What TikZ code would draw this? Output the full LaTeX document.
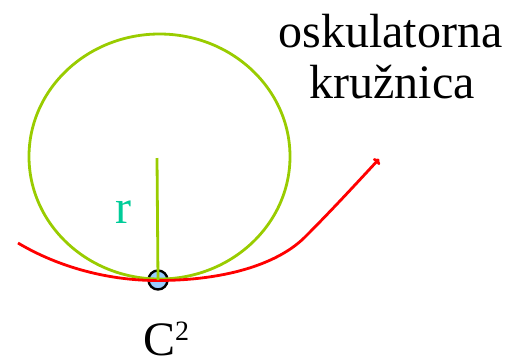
\documentclass[tikz,border=0pt]{standalone}
\usepackage{fontspec}
\setmainfont{Liberation Serif}
\usetikzlibrary{arrows.meta}
\definecolor{cgreen}{HTML}{99CC00}
\definecolor{cteal}{HTML}{00CC99}
\definecolor{cred}{HTML}{FF0000}
\definecolor{cpoint}{HTML}{99CCFF}
\tikzset{
  lbl/.style={font=\fontsize{48bp}{52bp}\selectfont, inner sep=0pt, anchor=base},
  greenline/.style={draw=cgreen, line width=2.8bp},
  redcurve/.style={draw=cred, line width=2.8bp, -{To[length=5bp,width=9bp]}},
  ptstyle/.style={circle, draw=black, line width=2.4bp, fill=cpoint, minimum size=19bp, inner sep=0pt}
}
\begin{document}
\begin{tikzpicture}[x=1bp,y=-1bp]
\useasboundingbox (0,0) rectangle (508,361);
\node[ptstyle] (P) at (158,280) {};
\draw[greenline] (159.5,156.5) ellipse [x radius=130.5, y radius=122.5];
\coordinate (top) at (157,158);
\coordinate (s) at (18,243);
\coordinate (m) at (157,280.5);
\coordinate (k) at (305,237);
\coordinate (e) at (379,159);
\draw[redcurve] (s) .. controls (60,268) and (110,280.5) .. (m)
  .. controls (230,280.5) and (280,262) .. (k)
  .. controls (330,212) and (355,185) .. (e);
\draw[greenline] (top) -- (P.center);
\node[lbl, text=cteal] (r) at (123,223) {r};
\node[lbl] (t1) at (390.5,47) {oskulatorna};
\node[lbl] (t2) at (392,98) {kružnica};
\node[lbl, anchor=base west] (C) at (143,355) {C\raisebox{15bp}{\fontsize{28bp}{28bp}\selectfont 2}};
\end{tikzpicture}
\end{document}
